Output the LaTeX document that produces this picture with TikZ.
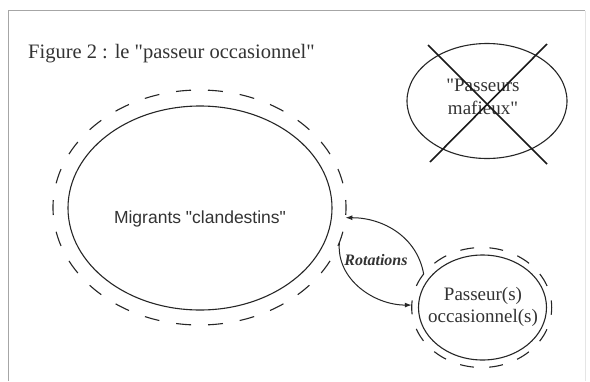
\documentclass[tikz,border=0pt]{standalone}
\usepackage{fontspec}
\setmainfont{Liberation Serif}[Ligatures=TeXOff]
\setsansfont{Liberation Sans}[Ligatures=TeXOff]
\usetikzlibrary{shapes.geometric,arrows.meta}
\begin{document}
\begin{tikzpicture}[x=1pt,y=1pt,
  ell/.style={draw=black!85, ellipse, inner sep=0pt, outer sep=0pt, line width=1.1pt},
  bigdash/.style={ell, dash pattern=on 15pt off 17pt, dash phase=7.5pt},
  smalldash/.style={ell, dash pattern=on 14pt off 15.2pt, dash phase=7pt},
  lbl/.style={inner sep=0pt, text=black!80},
  arr/.style={draw=black!85, line width=1pt, -{Latex[length=7pt,width=5pt]}},
  crossline/.style={draw=black!90, line width=1.6pt}]
\useasboundingbox (0,0) rectangle (590,-381);
\fill[white] (0,0) rectangle (590,-381);
% frame
\draw[gray!70, line width=1pt] (8.5,-381) -- (8.5,-10.5) -- (585,-10.5);
\draw[gray!20, line width=1pt] (585,-10.5) -- (585,-381);
% title
\node[lbl, anchor=base west, font=\fontsize{20.5}{24}\selectfont] (title) at (28,-58)
  {Figure 2 : le "passeur occasionnel"};
% big ellipses
\node[ell, minimum width=264pt, minimum height=204pt] (big) at (200,-208) {};
\node[bigdash, minimum width=293pt, minimum height=235pt] (bigd) at (199.5,-207.5) {};
\node[lbl, anchor=base, font=\sffamily\fontsize{17.5}{21}\selectfont] (migr) at (200,-223)
  {Migrants "clandestins"};
% mafia ellipse
\node[ell, minimum width=160pt, minimum height=115pt] (maf) at (487,-101) {};
\node[lbl, align=center, font=\fontsize{19}{23}\selectfont] (maft) at (483,-97)
  {"Passeurs\\mafieux"};
\coordinate (c1a) at (428,-45);
\coordinate (c1b) at (547,-164);
\coordinate (c2a) at (547,-44);
\coordinate (c2b) at (430,-162);
\draw[crossline] (c1a) -- (c1b);
\draw[crossline] (c2a) -- (c2b);
% small ellipses
\node[ell, minimum width=128pt, minimum height=105pt] (small) at (482.5,-307.5) {};
\node[smalldash, minimum width=140pt, minimum height=120pt] (smalld) at (481.7,-307.5) {};
\node[lbl, align=center, font=\fontsize{19}{22.3}\selectfont] (smallt) at (483,-307)
  {Passeur(s)\\occasionnel(s)};
% rotations
\draw[arr] (smalld.150) to[out=100,in=0] (bigd.-4);
\draw[arr] (bigd.-14) to[out=-95,in=180] (smalld.178);
\node[lbl, anchor=base, font=\bfseries\itshape\fontsize{16}{19}\selectfont] (rot) at (376,-265) {Rotations};
\end{tikzpicture}
\end{document}
